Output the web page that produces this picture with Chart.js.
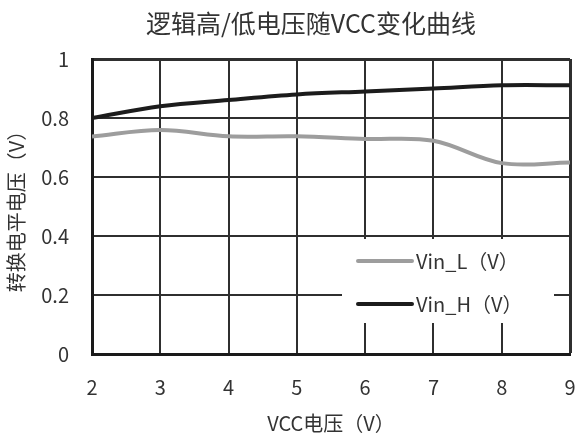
<!DOCTYPE html>
<html>
<head>
<meta charset="utf-8">
<script src="https://cdn.jsdelivr.net/npm/chart.js@4/dist/chart.umd.min.js"></script>
<style>
html,body{margin:0;padding:0;background:#fff;}
#wrap{width:578px;height:436px;}
</style>
</head>
<body>
<div id="wrap"><canvas id="c" width="578" height="436"></canvas></div>
<script>
const vccValues = [2, 3, 4, 5, 6, 7, 8, 9];
const vinL = [0.737, 0.759, 0.738, 0.738, 0.729, 0.723, 0.647, 0.649];
const vinH = [0.800, 0.840, 0.861, 0.880, 0.890, 0.900, 0.911, 0.911];
const seriesLabels = ['Vin_L（V）', 'Vin_H（V）'];
const titleText = '逻辑高/低电压随VCC变化曲线';
const xTitle = 'VCC电压（V）';
const yTitle = '转换电平电压（V）';

const FONT = '"Noto Sans CJK SC", "Noto Sans", sans-serif';
const toPts = ys => vccValues.map((x, i) => ({x: x, y: ys[i]}));

const titlePlugin = {
  id: 'titlePlugin',
  afterDraw(chart) {
    const ctx = chart.ctx;
    ctx.save();
    ctx.fillStyle = '#333';
    ctx.font = '25px ' + FONT;
    ctx.textAlign = 'center';
    ctx.textBaseline = 'middle';
    ctx.fillText(titleText, 311, 23);
    ctx.restore();
  }
};

const insideLegend = {
  id: 'insideLegend',
  afterDatasetsDraw(chart) {
    const ctx = chart.ctx, a = chart.chartArea;
    const left = a.right - 228, right = a.right - 16;
    const top = a.bottom - 115, bottom = a.bottom - 31;
    ctx.save();
    ctx.fillStyle = '#fff';
    ctx.fillRect(left, top, right - left, bottom - top);
    const rows = [top + 22, top + 65];
    chart.data.datasets.forEach((ds, i) => {
      const y = rows[i];
      ctx.strokeStyle = ds.borderColor;
      ctx.lineWidth = ds.borderWidth;
      ctx.lineCap = 'round';
      ctx.beginPath();
      ctx.moveTo(left + 16, y);
      ctx.lineTo(left + 70, y);
      ctx.stroke();
      ctx.fillStyle = '#333';
      ctx.font = '20px ' + FONT;
      ctx.textBaseline = 'middle';
      ctx.textAlign = 'left';
      ctx.fillText(ds.label, left + 74, y);
    });
    ctx.restore();
  }
};

new Chart(document.getElementById('c'), {
  type: 'line',
  data: {
    datasets: [
      {label: seriesLabels[0], data: toPts(vinL), borderColor: '#9d9d9d', borderWidth: 4, pointRadius: 0, tension: 0.35, fill: false},
      {label: seriesLabels[1], data: toPts(vinH), borderColor: '#1c1c1c', borderWidth: 4, pointRadius: 0, tension: 0.35, fill: false}
    ]
  },
  options: {
    responsive: false,
    animation: false,
    layout: {padding: {top: 59, right: 8, left: 0, bottom: 0}},
    plugins: {
      legend: {display: false},
      tooltip: {enabled: false},
      title: {display: false}
    },
    scales: {
      x: {
        type: 'linear', min: 2, max: 9,
        ticks: {stepSize: 1, color: '#333', font: {family: FONT, size: 20}, padding: 21},
        grid: {color: '#2f2f2f', lineWidth: c => (c.tick && c.tick.value === 9) ? 3 : 2, drawTicks: false},
        border: {display: true, color: '#1a1a1a', width: 3},
        title: {display: true, text: xTitle, color: '#333', font: {family: FONT, size: 20}, padding: {top: 4, bottom: 1}},
        afterFit: s => { s.height = 82; s.paddingRight = 0; s.paddingLeft = 0; }
      },
      y: {
        min: 0, max: 1,
        ticks: {stepSize: 0.2, color: '#333', font: {family: FONT, size: 20}, padding: 23, callback: v => String(Math.round(v * 10) / 10)},
        grid: {color: '#2f2f2f', lineWidth: c => (c.tick && c.tick.value === 1) ? 3 : 2, drawTicks: false},
        border: {display: true, color: '#1a1a1a', width: 3},
        title: {display: true, text: yTitle, color: '#333', font: {family: FONT, size: 20}, padding: {top: 4, bottom: 4}},
        afterFit: s => { s.width = 92; s.paddingTop = 0; s.paddingBottom = 0; }
      }
    }
  },
  plugins: [insideLegend, titlePlugin]
});
</script>
</body>
</html>
